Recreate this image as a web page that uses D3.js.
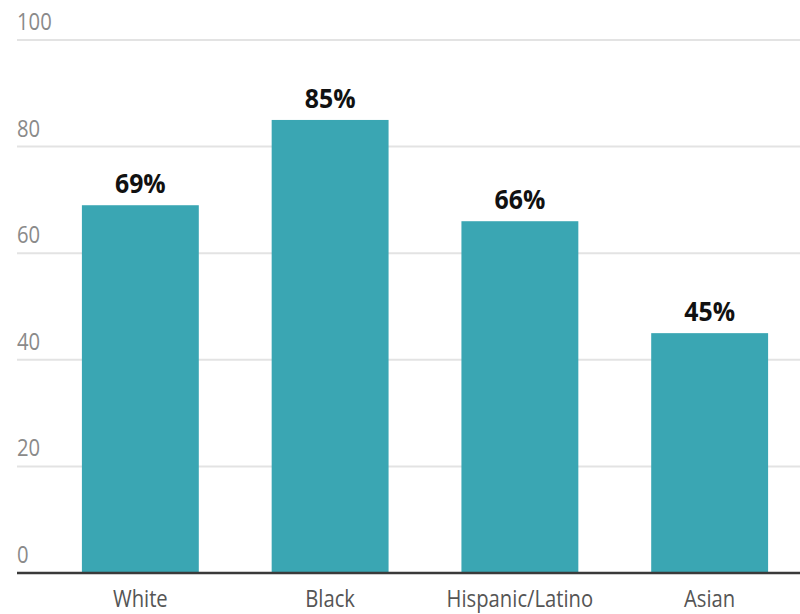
<!DOCTYPE html>
<html>
<head>
<meta charset="utf-8">
<script src="https://cdn.jsdelivr.net/npm/d3@7"></script>
<style>
  html, body { margin: 0; padding: 0; background: #fff; }
  svg { display: block; }
</style>
</head>
<body>
<svg id="chart" width="800" height="614"></svg>
<script>
// Share of each group, percent
const categories = ["White", "Black", "Hispanic/Latino", "Asian"];
const values = [69, 85, 66, 45];
const yTicks = [0, 20, 40, 60, 80, 100];

const svg = d3.select("#chart");
const W = 800;
const left = 17, baseY = 573, topY = 40;
const narrow = 0.88; // horizontal squeeze for a condensed look

const y = d3.scaleLinear().domain([0, 100]).range([baseY, topY]);
const x = d3.scaleBand()
  .domain(categories)
  .range([left, 833])
  .paddingInner(0.384)
  .paddingOuter(0.342);

const font = "'Open Sans', sans-serif";

// Horizontal gridlines with labels sitting above them
const grid = svg.append("g");
grid.selectAll("line")
  .data(yTicks.filter(d => d !== 0))
  .join("line")
  .attr("x1", left).attr("x2", W)
  .attr("y1", d => y(d)).attr("y2", d => y(d))
  .attr("stroke", "#e3e3e3")
  .attr("stroke-width", 2);

grid.selectAll("text")
  .data(yTicks)
  .join("text")
  .attr("transform", d => `translate(${left},${y(d) - 10}) scale(${narrow},1)`)
  .attr("font-family", font)
  .attr("font-size", 23)
  .attr("fill", "#8a8a8a")
  .text(d => d);

// Bars
svg.append("g").selectAll("rect")
  .data(values)
  .join("rect")
  .attr("x", (d, i) => x(categories[i]))
  .attr("width", x.bandwidth())
  .attr("y", d => y(d))
  .attr("height", d => y(0) - y(d))
  .attr("fill", "#3aa6b3");

// Value labels
svg.append("g").selectAll("text")
  .data(values)
  .join("text")
  .attr("transform", (d, i) =>
    `translate(${x(categories[i]) + x.bandwidth() / 2},${y(d) - 12}) scale(0.92,1)`)
  .attr("text-anchor", "middle")
  .attr("font-family", font)
  .attr("font-weight", 700)
  .attr("font-size", 27)
  .attr("fill", "#111")
  .text(d => d + "%");

// Baseline
svg.append("line")
  .attr("x1", left).attr("x2", W)
  .attr("y1", y(0)).attr("y2", y(0))
  .attr("stroke", "#3a3a3a")
  .attr("stroke-width", 2.5);

// Category axis labels
svg.append("g").selectAll("text")
  .data(categories)
  .join("text")
  .attr("transform", d => `translate(${x(d) + x.bandwidth() / 2},607) scale(${narrow},1)`)
  .attr("text-anchor", "middle")
  .attr("font-family", font)
  .attr("font-size", 23)
  .attr("fill", "#555")
  .text(d => d);
</script>
</body>
</html>
